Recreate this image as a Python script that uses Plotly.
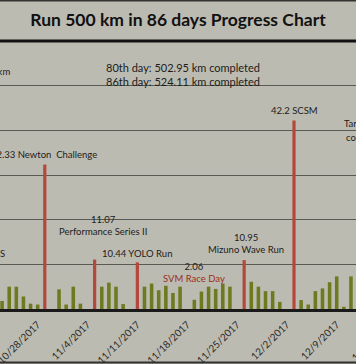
import plotly.graph_objects as go

# ---------------- data ----------------
title_text = "Run 500 km in 86 days Progress Chart"
summary_lines = ["80th day: 502.95 km completed", "86th day: 524.11 km completed"]

daily_dates = [
    "2017-10-23", "2017-10-24", "2017-10-25", "2017-10-26", "2017-10-27", "2017-10-28",
    "2017-10-31", "2017-11-01", "2017-11-02", "2017-11-03",
    "2017-11-06", "2017-11-07", "2017-11-08", "2017-11-09",
    "2017-11-12", "2017-11-13", "2017-11-14", "2017-11-15", "2017-11-16", "2017-11-17",
    "2017-11-19", "2017-11-20", "2017-11-21", "2017-11-22", "2017-11-23", "2017-11-24",
    "2017-11-27", "2017-11-28", "2017-11-29", "2017-11-30", "2017-12-01",
    "2017-12-04", "2017-12-05", "2017-12-06", "2017-12-07", "2017-12-08", "2017-12-09",
    "2017-12-10", "2017-12-11",
]
daily_km = [
    1.8, 5.0, 5.0, 2.8, 1.2, 1.0,
    4.4, 1.0, 5.0, 1.2,
    5.0, 5.9, 5.0, 1.1,
    5.0, 5.7, 4.2, 5.2, 3.6, 5.0,
    2.06, 3.9, 5.0, 4.5, 5.7, 5.0,
    6.1, 5.0, 4.0, 4.0, 1.6,
    2.0, 1.0, 4.0, 4.6, 6.0, 7.3,
    0.5, 7.3,
]

race_dates = ["2017-10-29", "2017-11-05", "2017-11-11", "2017-11-26", "2017-12-03"]
race_km = [32.33, 11.07, 10.44, 10.95, 42.2]
race_names = ["Newton  Challenge", "Performance Series II", "YOLO Run", "Mizuno Wave Run", "SCSM"]

svm_date = "2017-11-19"
svm_km = 2.06
svm_name = "SVM Race Day"

tick_first = "2017-10-28"
next_tick_label = "12/16/2017"
left_cut_texts = ["Target: 500 km", "S"]
right_cut_texts = ["Target", "completed"]

# ---------------- style ----------------
BG = "#bcbbb1"
OLIVE = "#6e7a1f"
RED = "#b3483b"
TXT = "#1c1c1a"
FONT = "Lato, 'Open Sans', sans-serif"
LBL = 9.5
DAY_MS = 86400000

W, H = 356, 364
M_T, M_B = 41, 55
PLOT_H = H - M_T - M_B

def py(px):
    """pixel row -> paper y"""
    return (H - M_B - px) / PLOT_H

fig = go.Figure()
fig.add_trace(go.Bar(x=daily_dates, y=daily_km, width=0.5 * DAY_MS,
                     marker=dict(color=OLIVE, line=dict(width=0)), showlegend=False))
fig.add_trace(go.Bar(x=race_dates, y=race_km, width=0.45 * DAY_MS,
                     marker=dict(color=RED, line=dict(width=0)), showlegend=False))

# label layout (pixel offsets above bar tops)
race_label_style = [
    dict(lines=1, yshift=10, xshift=-1),
    dict(lines=2, yshift=34, xshift=8),
    dict(lines=1, yshift=9, xshift=0),
    dict(lines=2, yshift=17, xshift=2),
    dict(lines=1, yshift=10, xshift=0),
]

annotations = []
for d, v, n, st in zip(race_dates, race_km, race_names, race_label_style):
    sep = "<br>" if st["lines"] == 2 else " "
    annotations.append(dict(x=d, y=v, xref="x", yref="y", text=f"{v:g}{sep}{n}",
                            showarrow=False, xanchor="center", yanchor="middle",
                            yshift=st["yshift"], xshift=st["xshift"],
                            font=dict(family=FONT, size=LBL, color=TXT)))
annotations.append(dict(x=svm_date, y=svm_km, xref="x", yref="y",
                        text=f"{svm_km:g}<br><span style='color:#9a2e22'>{svm_name}</span>",
                        showarrow=False, xanchor="center", yanchor="middle", yshift=27,
                        font=dict(family=FONT, size=LBL, color=TXT)))

annotations.append(dict(x=183 / W, y=py(74), xref="paper", yref="paper",
                        text="<br>".join(summary_lines), showarrow=False,
                        xanchor="center", yanchor="middle",
                        font=dict(family=FONT, size=11, color=TXT)))
annotations.append(dict(x=12 / W, y=py(72), xref="paper", yref="paper", text=left_cut_texts[0],
                        showarrow=False, xanchor="right", yanchor="middle",
                        font=dict(family=FONT, size=LBL, color=TXT)))
annotations.append(dict(x=7 / W, y=py(253), xref="paper", yref="paper", text=left_cut_texts[1],
                        showarrow=False, xanchor="right", yanchor="middle",
                        font=dict(family=FONT, size=LBL, color=TXT)))
annotations.append(dict(x=342 / W, y=py(123), xref="paper", yref="paper", text=right_cut_texts[0],
                        showarrow=False, xanchor="left", yanchor="middle",
                        font=dict(family=FONT, size=LBL, color=TXT)))
annotations.append(dict(x=344 / W, y=py(137), xref="paper", yref="paper", text=right_cut_texts[1],
                        showarrow=False, xanchor="left", yanchor="middle",
                        font=dict(family=FONT, size=LBL, color=TXT)))
annotations.append(dict(x=373 / W, y=py(339), xref="paper", yref="paper", text=next_tick_label,
                        showarrow=False, xanchor="center", yanchor="middle", textangle=-45,
                        font=dict(family=FONT, size=10, color="#2a2a28")))

shapes = [
    dict(type="line", xref="paper", yref="paper", x0=0, x1=1, y0=1, y1=1,
         line=dict(color="#111111", width=3)),
    dict(type="line", xref="paper", yref="paper", x0=0, x1=1, y0=py(0.5), y1=py(0.5),
         line=dict(color="#333333", width=2)),
    dict(type="line", xref="paper", yref="paper", x0=0, x1=1, y0=py(362.5), y1=py(362.5),
         line=dict(color="#333333", width=2)),
]

fig.update_layout(
    width=W, height=H,
    margin=dict(l=0, r=0, t=M_T, b=M_B, pad=0, autoexpand=False),
    paper_bgcolor=BG, plot_bgcolor=BG,
    barmode="overlay",
    title=dict(text=f"<b>{title_text}</b>", x=0.5, xanchor="center",
               y=1 - 20 / H, yanchor="middle", yref="container",
               font=dict(family=FONT, size=17.5, color="#111111")),
    annotations=annotations,
    shapes=shapes,
    showlegend=False,
)
fig.update_xaxes(type="date", range=["2017-10-22 17:00", "2017-12-11 17:00"],
                 tick0=tick_first, dtick=7 * DAY_MS, tickformat="%-m/%-d/%Y",
                 tickangle=-45, tickfont=dict(family=FONT, size=10, color="#2a2a28"),
                 ticklabelshift=0, ticklabelstandoff=3, ticklabeloverflow="allow",
                 showgrid=False, showline=True, linecolor="#1a1a1a", linewidth=2.5,
                 ticks="", zeroline=False, automargin=False)
fig.update_yaxes(range=[0, 60], dtick=10, showticklabels=False, showgrid=True,
                 gridcolor="#5a5a55", gridwidth=1, zeroline=False, showline=False,
                 automargin=False)

fig.write_html("out.html", config={"displayModeBar": False},
               post_script="document.body.style.margin='0';document.body.style.padding='0';"
                           "document.body.style.background='%s';" % BG)
